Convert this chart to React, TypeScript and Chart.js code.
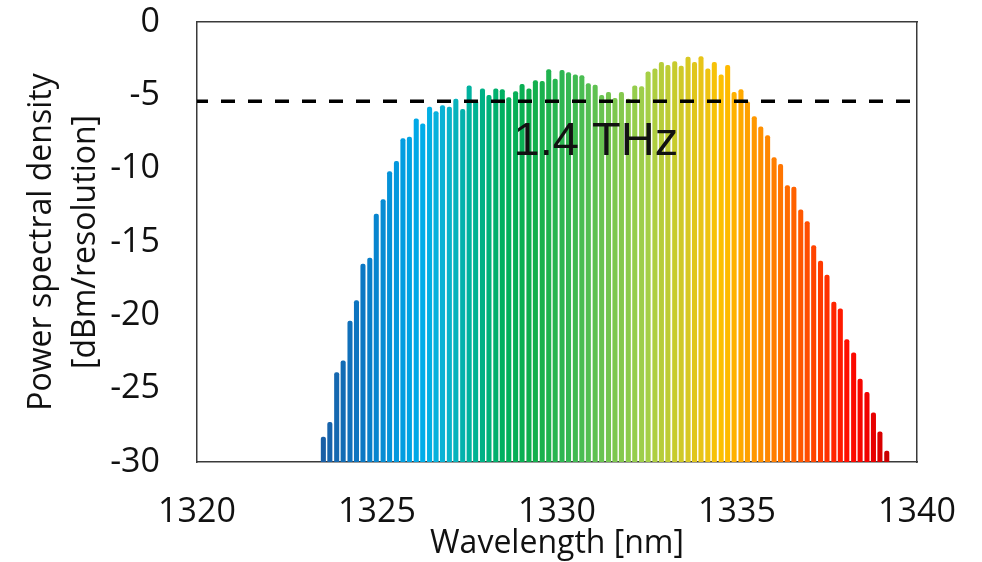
import React, { useEffect, useRef } from "react";
import { Chart, registerables } from "chart.js";

Chart.register(...registerables);

// Comb line wavelengths (nm)
const wavelengths: number[] = [
  1323.51, 1323.69, 1323.88, 1324.06, 1324.25, 1324.43, 1324.61, 1324.8, 1324.98, 1325.17,
  1325.35, 1325.54, 1325.72, 1325.9, 1326.09, 1326.27, 1326.46, 1326.64, 1326.82, 1327.01,
  1327.19, 1327.38, 1327.56, 1327.74, 1327.93, 1328.11, 1328.3, 1328.48, 1328.66, 1328.85,
  1329.03, 1329.22, 1329.4, 1329.59, 1329.77, 1329.95, 1330.14, 1330.32, 1330.51, 1330.69,
  1330.87, 1331.06, 1331.24, 1331.43, 1331.61, 1331.79, 1331.98, 1332.16, 1332.35, 1332.53,
  1332.72, 1332.9, 1333.08, 1333.27, 1333.45, 1333.64, 1333.82, 1334.0, 1334.19, 1334.37,
  1334.56, 1334.74, 1334.92, 1335.11, 1335.29, 1335.48, 1335.66, 1335.85, 1336.03, 1336.21,
  1336.4, 1336.58, 1336.77, 1336.95, 1337.13, 1337.32, 1337.5, 1337.69, 1337.87, 1338.05,
  1338.24, 1338.42, 1338.61, 1338.79, 1338.97, 1339.16,
];

// Peak power of each comb line (dBm/resolution)
const peakPower: number[] = [
  -28.3, -27.3, -23.9, -23.1, -20.4, -19.0, -16.5, -16.1, -13.1, -12.1,
  -10.2, -9.5, -7.95, -7.85, -6.6, -6.95, -5.8, -6.1, -5.7, -5.8,
  -5.25, -5.95, -4.35, -5.35, -4.55, -5.0, -4.55, -4.6, -5.15, -4.75,
  -4.25, -4.55, -4.0, -4.05, -3.25, -3.9, -3.3, -3.45, -3.6, -3.65,
  -4.2, -4.3, -5.0, -4.8, -5.2, -4.8, -5.25, -4.35, -4.4, -3.4,
  -3.2, -2.75, -2.95, -2.7, -3.0, -2.4, -2.75, -2.35, -3.2, -2.75,
  -3.6, -2.95, -4.8, -4.6, -5.45, -6.45, -7.15, -7.75, -9.25, -9.7,
  -11.15, -11.25, -12.8, -13.6, -15.25, -16.3, -17.25, -19.1, -19.55, -21.65,
  -22.55, -24.35, -25.25, -26.65, -27.95, -29.25,
];

const xTicks: number[] = [1320, 1325, 1330, 1335, 1340];
const yTicks: number[] = [0, -5, -10, -15, -20, -25, -30];
const floorLevel = -30;
const thresholdLevel = -5.4;
const bandwidthLabel = "1.4 THz";
const bandwidthLabelPos = { x: 1331.08, y: -9.05 };

const colorStops: [number, string][] = [
  [1323.5, "#1a5fa6"],
  [1324.6, "#0b78c4"],
  [1325.5, "#0497dc"],
  [1326.3, "#00aeea"],
  [1326.9, "#0cb3d2"],
  [1327.6, "#00b29c"],
  [1328.5, "#00b060"],
  [1329.3, "#0fae4c"],
  [1330.3, "#34b853"],
  [1331.5, "#78c650"],
  [1332.4, "#a0cf4a"],
  [1333.2, "#c4cc30"],
  [1334.0, "#e8c418"],
  [1334.6, "#ffc000"],
  [1335.3, "#ffa000"],
  [1336.0, "#ff8000"],
  [1336.7, "#ff5c00"],
  [1337.5, "#ff3000"],
  [1338.1, "#ff0c00"],
  [1338.7, "#ee0000"],
  [1339.2, "#c80000"],
];

function hexToRgb(h: string): number[] {
  const n = parseInt(h.slice(1), 16);
  return [(n >> 16) & 255, (n >> 8) & 255, n & 255];
}

function colorAt(w: number): string {
  if (w <= colorStops[0][0]) return colorStops[0][1];
  for (let i = 1; i < colorStops.length; i++) {
    const [w1, c1] = colorStops[i];
    const [w0, c0] = colorStops[i - 1];
    if (w <= w1) {
      const t = (w - w0) / (w1 - w0);
      const a = hexToRgb(c0);
      const b = hexToRgb(c1);
      const r = a.map((v, k) => Math.round(v + (b[k] - v) * t));
      return `rgb(${r[0]},${r[1]},${r[2]})`;
    }
  }
  return colorStops[colorStops.length - 1][1];
}

const textPlugin = {
  id: "bandLabel",
  afterDatasetsDraw(chart: any) {
    const { ctx, scales } = chart;
    const px = scales.x.getPixelForValue(bandwidthLabelPos.x);
    const py = scales.y.getPixelForValue(bandwidthLabelPos.y);
    ctx.save();
    ctx.font = '47px "Liberation Sans", Arial, sans-serif';
    ctx.fillStyle = "#111111";
    ctx.textAlign = "center";
    ctx.textBaseline = "alphabetic";
    ctx.fillText(bandwidthLabel, px, py);
    ctx.restore();
  },
};

export default function App() {
  const canvasRef = useRef<HTMLCanvasElement | null>(null);

  useEffect(() => {
    const canvas = canvasRef.current;
    if (!canvas) return;
    const tickFont = { family: '"Open Sans", sans-serif', size: 34, lineHeight: 1.2 };
    const chart = new Chart(canvas, {
      type: "bar",
      data: {
        datasets: [
          {
            type: "line",
            data: [
              { x: 1320, y: thresholdLevel },
              { x: 1340, y: thresholdLevel },
            ],
            borderColor: "#000000",
            borderWidth: 3.6,
            borderDash: [14, 13],
            borderDashOffset: 3,
            pointRadius: 0,
            order: 0,
          } as any,
          {
            type: "bar",
            data: wavelengths.map((w, i) => ({ x: w, y: peakPower[i] })),
            base: floorLevel,
            backgroundColor: wavelengths.map((w) => colorAt(w)),
            barThickness: 4.4,
            borderRadius: 2,
            borderSkipped: "start",
            order: 1,
          } as any,
        ],
      },
      options: {
        animation: false,
        responsive: false,
        events: [],
        layout: { padding: 0 },
        plugins: { legend: { display: false }, tooltip: { enabled: false } },
        scales: {
          x: {
            type: "linear",
            min: 1320,
            max: 1340,
            offset: false,
            afterFit: (s: any) => {
              s.height = 100;
              s.paddingLeft = 0;
              s.paddingRight = 0;
            },
            afterBuildTicks: (s: any) => { s.ticks = xTicks.map((v) => ({ value: v })); },
            grid: { display: false, drawTicks: false, offset: false },
            border: { display: true, color: "#3a3a3a", width: 1.5 },
            ticks: {
              padding: 30,
              color: "#111111",
              font: tickFont,
              maxRotation: 0,
              callback: (v: any) => String(v),
            },
            title: {
              display: true,
              text: "Wavelength [nm]",
              color: "#111111",
              font: { family: '"Open Sans", sans-serif', size: 32, lineHeight: 1.0 },
              padding: { top: 0, bottom: 2 },
            },
          },
          y: {
            type: "linear",
            min: -30,
            max: 0,
            afterFit: (s: any) => {
              s.width = 197;
              s.paddingTop = 0;
              s.paddingBottom = 0;
            },
            afterBuildTicks: (s: any) => { s.ticks = yTicks.map((v) => ({ value: v })); },
            grid: { display: false, drawTicks: false },
            border: { display: true, color: "#3a3a3a", width: 1.5 },
            ticks: {
              padding: 37,
              color: "#111111",
              font: tickFont,
              callback: (v: any) => String(v),
            },
            title: {
              display: true,
              text: ["Power spectral density", "[dBm/resolution]"],
              color: "#111111",
              font: { family: '"Open Sans", sans-serif', size: 32, lineHeight: 1.4 },
              padding: { top: 19, bottom: 0 },
            },
          },
          x2: {
            type: "linear",
            position: "top",
            min: 1320,
            max: 1340,
            afterFit: (s: any) => {
              s.height = 22;
              s.paddingLeft = 0;
              s.paddingRight = 0;
            },
            grid: { display: false, drawTicks: false },
            border: { display: true, color: "#3a3a3a", width: 1.5 },
            ticks: { display: false },
          },
          y2: {
            type: "linear",
            position: "right",
            min: -30,
            max: 0,
            afterFit: (s: any) => {
              s.width = 65;
              s.paddingTop = 0;
              s.paddingBottom = 0;
            },
            grid: { display: false, drawTicks: false },
            border: { display: true, color: "#3a3a3a", width: 1.5 },
            ticks: { display: false },
          },
        },
      } as any,
      plugins: [textPlugin],
    });
    return () => chart.destroy();
  }, []);

  return (
    <div style={{ position: "fixed", left: 0, top: 0, width: 982, height: 562, background: "#ffffff" }}>
      <canvas ref={canvasRef} width={982} height={562} style={{ display: "block" }} />
    </div>
  );
}
